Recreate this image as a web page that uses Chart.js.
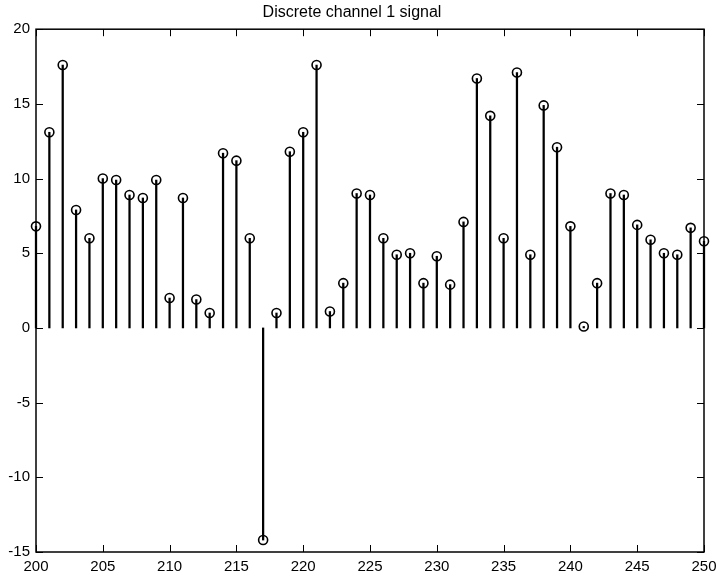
<!DOCTYPE html>
<html lang="en">
<head>
    <meta charset="UTF-8">
    <script src="https://cdn.jsdelivr.net/npm/chart.js"></script>
    <title>Discrete channel 1 signal</title>
    <style>
        body {
            margin: 0;
            background: #fff;
        }
        #wrap {
            width: 719px;
            height: 578px;
        }
    </style>
</head>
<body>
    <div id="wrap"><canvas id="stemChart" width="719" height="578"></canvas></div>

    <script>
        // sample index n and channel 1 value at each sample
        const sampleIndex = [
            200, 201, 202, 203, 204, 205, 206, 207, 208, 209,
            210, 211, 212, 213, 214, 215, 216, 217, 218, 219,
            220, 221, 222, 223, 224, 225, 226, 227, 228, 229,
            230, 231, 232, 233, 234, 235, 236, 237, 238, 239,
            240, 241, 242, 243, 244, 245, 246, 247, 248, 249, 250
        ];
        const channel1 = [
            6.8, 13.1, 17.6, 7.9, 6.0, 10.0, 9.9, 8.9, 8.7, 9.9,
            2.0, 8.7, 1.9, 1.0, 11.7, 11.2, 6.0, -14.2, 1.0, 11.8,
            13.1, 17.6, 1.1, 3.0, 9.0, 8.9, 6.0, 4.9, 5.0, 3.0,
            4.8, 2.9, 7.1, 16.7, 14.2, 6.0, 17.1, 4.9, 14.9, 12.1,
            6.8, 0.1, 3.0, 9.0, 8.9, 6.9, 5.9, 5.0, 4.9, 6.7, 5.8
        ];
        const xTicks = [200, 205, 210, 215, 220, 225, 230, 235, 240, 245, 250];
        const yTicks = [-15, -10, -5, 0, 5, 10, 15, 20];

        const points = sampleIndex.map((n, i) => ({ x: n, y: channel1[i] }));

        // box around the axes with short tick marks pointing inward on all sides
        const innerTicks = {
            id: 'innerTicks',
            afterDraw(chart) {
                const { ctx, chartArea: a, scales } = chart;
                const len = 7;
                ctx.save();
                ctx.strokeStyle = '#000';
                ctx.lineWidth = 1;
                ctx.beginPath();
                xTicks.forEach(v => {
                    const px = Math.round(scales.x.getPixelForValue(v)) + 0.5;
                    ctx.moveTo(px, a.bottom);
                    ctx.lineTo(px, a.bottom - len);
                    ctx.moveTo(px, a.top);
                    ctx.lineTo(px, a.top + len);
                });
                yTicks.forEach(v => {
                    const py = Math.round(scales.y.getPixelForValue(v)) + 0.5;
                    ctx.moveTo(a.left, py);
                    ctx.lineTo(a.left + len, py);
                    ctx.moveTo(a.right, py);
                    ctx.lineTo(a.right - len, py);
                });
                ctx.stroke();
                ctx.lineWidth = 1.5;
                ctx.strokeRect(a.left, a.top, a.right - a.left, a.bottom - a.top);
                ctx.restore();
            }
        };

        const font = { family: "'Liberation Sans', Arial, sans-serif", size: 15 };

        new Chart(document.getElementById('stemChart'), {
            type: 'bar',
            data: {
                datasets: [
                    {
                        type: 'line',
                        data: points,
                        showLine: false,
                        clip: false,
                        pointStyle: 'circle',
                        pointRadius: 4.5,
                        pointBorderWidth: 1.6,
                        pointBorderColor: '#000',
                        pointBackgroundColor: 'rgba(0,0,0,0)',
                        order: 0
                    },
                    {
                        type: 'bar',
                        data: points,
                        clip: false,
                        backgroundColor: '#000',
                        barThickness: 1.6,
                        order: 1
                    }
                ]
            },
            options: {
                responsive: false,
                animation: false,
                layout: { padding: { left: 0, right: 15, top: 0, bottom: 0 } },
                plugins: {
                    legend: { display: false },
                    tooltip: { enabled: false },
                    title: {
                        display: true,
                        text: 'Discrete channel 1 signal',
                        color: '#000',
                        font: { family: font.family, size: 16, weight: 'normal' },
                        padding: { top: 3, bottom: 7 }
                    }
                },
                scales: {
                    x: {
                        type: 'linear',
                        min: 200,
                        max: 250,
                        offset: false,
                        grid: { display: false, drawTicks: false },
                        border: { display: false },
                        afterBuildTicks: s => { s.ticks = xTicks.map(v => ({ value: v })); },
                        afterFit: s => { s.height = 26; s.paddingLeft = 0; s.paddingRight = 0; },
                        ticks: { color: '#000', font, padding: 6, maxRotation: 0, autoSkip: false }
                    },
                    y: {
                        min: -15,
                        max: 20,
                        grid: { display: false, drawTicks: false },
                        border: { display: false },
                        afterBuildTicks: s => { s.ticks = yTicks.map(v => ({ value: v })); },
                        afterFit: s => { s.width = 36; s.paddingTop = 0; s.paddingBottom = 0; },
                        ticks: { color: '#000', font, padding: 6 }
                    }
                }
            },
            plugins: [innerTicks]
        });
    </script>
</body>
</html>
